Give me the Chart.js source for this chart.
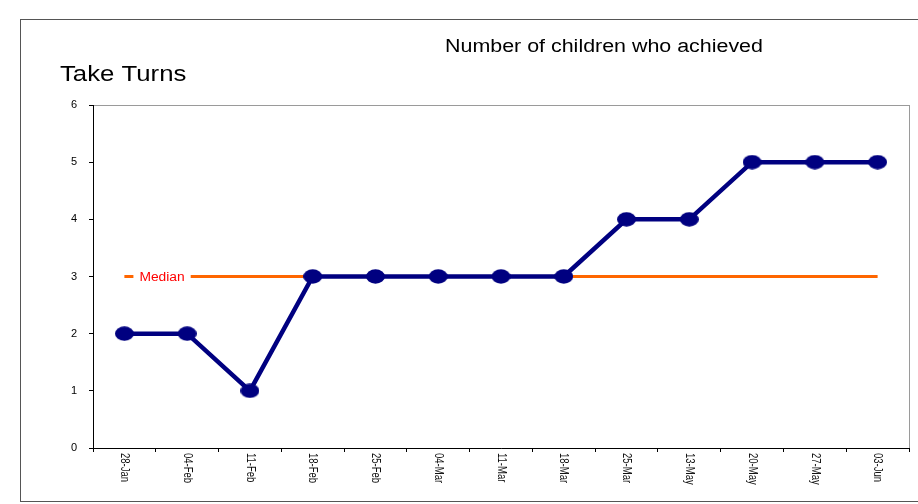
<!DOCTYPE html>
<html>
<head>
<meta charset="utf-8">
<script src="https://cdn.jsdelivr.net/npm/chart.js@4"></script>
<style>
  html, body { margin: 0; padding: 0; background: #fff; }
  #wrap { width: 918px; height: 504px; position: relative; }
</style>
</head>
<body>
<div id="wrap"><canvas id="takeTurns" width="918" height="504"></canvas></div>
<script>
// chart data
const weeks = ['28-Jan', '04-Feb', '11-Feb', '18-Feb', '25-Feb', '04-Mar', '11-Mar',
               '18-Mar', '25-Mar', '13-May', '20-May', '27-May', '03-Jun'];
const achieved = [2, 2, 1, 3, 3, 3, 3, 3, 4, 4, 5, 5, 5];
const median = [3, 3, 3, 3, 3, 3, 3, 3, 3, 3, 3, 3, 3];
const yTicks = [0, 1, 2, 3, 4, 5, 6];

const FONT = '"Liberation Sans", Arial, sans-serif';

// the markers in the original are slightly squashed dots
const dot = document.createElement('canvas');
dot.width = 19;
dot.height = 15;
(function () {
    const d = dot.getContext('2d');
    d.fillStyle = '#000080';
    d.beginPath();
    d.ellipse(9.5, 7.5, 9.5, 7.2, 0, 0, Math.PI * 2);
    d.fill();
})();

// text is a little wider than normal in the original
function wideText(c, txt, x, y, sx) {
    c.save();
    c.translate(x, y);
    c.scale(sx, 1);
    c.fillText(txt, 0, 0);
    c.restore();
}

// frame, titles, rotated week labels and the "Median" tag
const decorations = {
    id: 'decorations',
    beforeDraw(chart) {
        const c = chart.ctx;
        const a = chart.chartArea;
        c.save();
        c.fillStyle = '#fff';
        c.fillRect(0, 0, chart.width, chart.height);
        // outer frame
        c.strokeStyle = '#555';
        c.lineWidth = 1;
        c.strokeRect(20.5, 19.5, 1000, 482);
        // light grey box round the plot
        c.strokeStyle = '#9a9a9a';
        c.strokeRect(a.left + 0.5, a.top + 0.5, a.right - a.left, a.bottom - a.top);
        // titles
        c.fillStyle = '#000';
        c.textBaseline = 'middle';
        c.textAlign = 'left';
        c.font = '22px ' + FONT;
        wideText(c, 'Take Turns', 60, 75, 1.17);
        c.textAlign = 'center';
        c.font = '18px ' + FONT;
        wideText(c, 'Number of children who achieved', 604, 47, 1.19);
        c.restore();
    },
    afterDatasetsDraw(chart) {
        const c = chart.ctx;
        const x = chart.scales.x;
        const y = chart.scales.y;
        c.save();
        // median tag
        const p0 = x.getPixelForTick(0), p1 = x.getPixelForTick(1);
        const mx = p0 + 0.6 * (p1 - p0);
        const my = y.getPixelForValue(median[0]);
        c.font = '12px ' + FONT;
        const w = c.measureText('Median').width * 1.15;
        c.fillStyle = '#fff';
        c.fillRect(mx - w / 2 - 6, my - 4, w + 12, 8);
        c.fillStyle = '#ff0000';
        c.textAlign = 'center';
        c.textBaseline = 'middle';
        wideText(c, 'Median', mx, my + 1, 1.15);
        // week labels, turned a quarter clockwise
        c.fillStyle = '#111';
        c.textAlign = 'left';
        c.font = '9.5px ' + FONT;
        weeks.forEach((lbl, i) => {
            c.save();
            c.translate(x.getPixelForTick(i), x.top + 5);
            c.rotate(Math.PI / 2);
            c.scale(1, 1.25);
            c.fillText(lbl, 0, 0);
            c.restore();
        });
        c.restore();
    }
};

new Chart(document.getElementById('takeTurns'), {
    type: 'line',
    data: {
        labels: weeks,
        datasets: [{
            label: 'Take Turns',
            data: achieved,
            borderColor: '#000080',
            backgroundColor: '#000080',
            borderWidth: 4.5,
            pointStyle: dot,
            tension: 0
        }, {
            label: 'Median',
            data: median,
            borderColor: '#ff6600',
            borderWidth: 3,
            pointRadius: 0,
            tension: 0
        }]
    },
    options: {
        responsive: false,
        animation: false,
        layout: { padding: { left: 0, top: 105, right: 9, bottom: 0 } },
        scales: {
            x: {
                offset: true,
                afterFit: (s) => { s.height = 56; },
                grid: { offset: true, drawOnChartArea: false, tickLength: 4, color: '#000' },
                border: { color: '#000', width: 1 },
                ticks: { display: false }
            },
            y: {
                min: 0,
                max: 6,
                afterFit: (s) => { s.width = 93; },
                afterBuildTicks: (s) => { s.ticks = yTicks.map(v => ({ value: v })); },
                grid: { drawOnChartArea: false, tickLength: 4, color: '#000' },
                border: { color: '#000', width: 1 },
                ticks: {
                    color: '#000',
                    padding: 12,
                    font: { family: FONT, size: 11 }
                }
            }
        },
        plugins: {
            legend: { display: false },
            title: { display: false },
            tooltip: { enabled: false }
        }
    },
    plugins: [decorations]
});
</script>
</body>
</html>
